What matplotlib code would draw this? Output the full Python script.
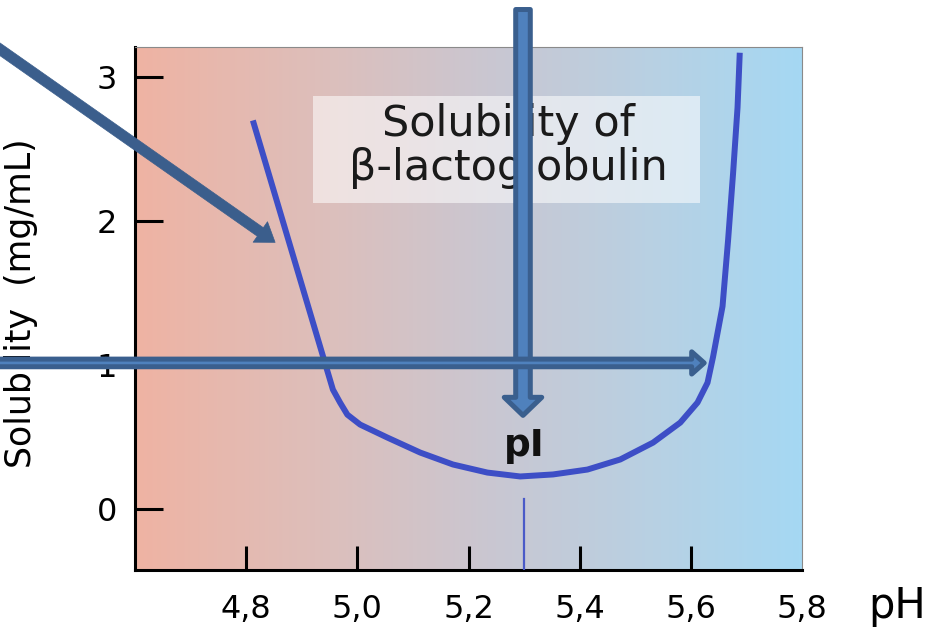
import numpy as np
import matplotlib
matplotlib.use("Agg")
import matplotlib.pyplot as plt
from matplotlib.colors import LinearSegmentedColormap
from matplotlib.patches import Rectangle

# DATA ****************************************************************************
ph = [4.812, 4.956, 4.969, 4.982, 5.005, 5.054, 5.113, 5.172, 5.234, 5.293, 5.352, 5.414,
      5.473, 5.532, 5.581, 5.612, 5.630, 5.640, 5.657, 5.667, 5.676, 5.684, 5.688]
solubility = [2.70, 0.832, 0.741, 0.658, 0.589, 0.499, 0.395, 0.312, 0.256, 0.229, 0.243, 0.277,
              0.347, 0.464, 0.603, 0.742, 0.880, 1.06, 1.41, 1.87, 2.335, 2.79, 3.17]
x_ticks = [4.8, 5.0, 5.2, 5.4, 5.6, 5.8]
x_labels = ["4,8", "5,0", "5,2", "5,4", "5,6", "5,8"]
y_ticks = [0, 1, 2, 3]
pI = 5.30

# background gradient stops (pH -> colour)
grad_pos = [4.6, 4.95, 5.25, 5.55, 5.8]
grad_col = ["#EFB3A3", "#DCBFBC", "#C9C7D2", "#B7D1E4", "#A5D8F3"]

plt.rcParams['font.family'] = ['DejaVu Sans']

fig = plt.figure(figsize=(9.47, 6.28), dpi=100)
ax = fig.add_axes([0.1426, 0.0924, 0.7043, 0.8328])
xlim = (4.6, 5.8)
ylim = (-0.42, 3.21)
ax.set_xlim(*xlim)
ax.set_ylim(*ylim)

# gradient
stops = [(p - xlim[0]) / (xlim[1] - xlim[0]) for p in grad_pos]
cmap = LinearSegmentedColormap.from_list("bg", list(zip(stops, grad_col)))
ax.imshow(np.linspace(0, 1, 400).reshape(1, -1), cmap=cmap, aspect='auto',
          extent=[xlim[0], xlim[1], ylim[0], ylim[1]], zorder=0)

# curve
ax.plot(ph, solubility, color="#3D4EC6", lw=4.3, solid_capstyle='butt', solid_joinstyle='round', zorder=3)
ax.plot([pI, pI], [ylim[0], 0.07], color="#4A5AC8", lw=1.6, zorder=3)

# title box
ax.add_patch(Rectangle((4.92, 2.13), 0.697, 0.74, facecolor="white", alpha=0.55, edgecolor='none', zorder=2))
ax.text(5.271, 2.59, "Solubility of", ha='center', va='baseline', fontsize=31, color="#1a1a1a", zorder=4)
ax.text(5.271, 2.29, "β-lactoglobulin", ha='center', va='baseline', fontsize=31, color="#1a1a1a", zorder=4)

ax.text(pI, 0.37, "pI", ha='center', va='baseline', fontsize=27, fontweight='bold', color="#111111", zorder=4)

# axes styling
for s in ['left', 'bottom']:
    ax.spines[s].set_linewidth(2.2)
    ax.spines[s].set_color('black')
for s in ['top', 'right']:
    ax.spines[s].set_linewidth(0.8)
    ax.spines[s].set_color('#8a8a8a')

ax.set_xticks(x_ticks)
ax.set_xticklabels(x_labels)
ax.set_yticks(y_ticks)
ax.tick_params(axis='x', direction='in', length=17, width=2.2, pad=17, labelsize=23, colors='black')
ax.tick_params(axis='y', direction='in', length=20, width=2.2, pad=13, labelsize=23, colors='black')
ax.xaxis.get_major_ticks()[-1].tick1line.set_visible(False)

ax.set_ylabel("Solubility  (mg/mL)", fontsize=25)
ax.yaxis.set_label_coords(-0.145, 0.51)
ax.text(1.142, -0.069, "pH", transform=ax.transAxes, ha='center', va='center', fontsize=30, clip_on=False)

# overlay arrows
dark = "#3A5F8E"
light = "#4F81BD"
ax.annotate("", xy=(4.852, 1.854), xytext=(4.303, 3.34), xycoords='data', textcoords='data',
            arrowprops=dict(arrowstyle="simple,head_width=18,head_length=13,tail_width=7.5",
                            mutation_scale=1, fc="#3B5E8C", ec="#3B5E8C", lw=0.5, shrinkA=0, shrinkB=0),
            annotation_clip=False, zorder=6)
ax.annotate("", xy=(5.298, 0.653), xytext=(5.298, 3.47), xycoords='data', textcoords='data',
            arrowprops=dict(arrowstyle="simple,head_width=27,head_length=13,tail_width=10.5",
                            mutation_scale=1, fc=light, ec=dark, lw=3.6, shrinkA=0, shrinkB=0),
            annotation_clip=False, zorder=5)
ax.annotate("", xy=(5.624, 1.017), xytext=(4.30, 1.017), xycoords='data', textcoords='data',
            arrowprops=dict(arrowstyle="simple,head_width=16,head_length=9,tail_width=5.5",
                            mutation_scale=1, fc=light, ec=dark, lw=3.6, shrinkA=0, shrinkB=0),
            annotation_clip=False, zorder=6)

plt.savefig("out.png", dpi=100)
